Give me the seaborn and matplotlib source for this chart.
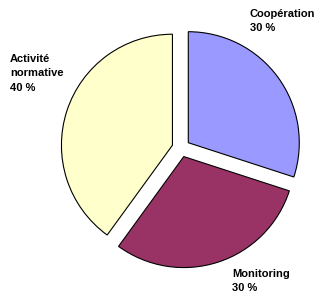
import matplotlib
matplotlib.use("Agg")
import matplotlib.pyplot as plt
import seaborn as sns

# Data
categories = ["Coopération", "Monitoring", "Activité\nnormative"]
shares = [30, 30, 40]
colors = ["#9999FF", "#993366", "#FFFFCC"]

# label layout (top-left corner of each label, in axes data units)
label_pos = [(69, 139), (51, -121), (-171, 94)]

sns.set_theme(style="white")
plt.rcParams["font.family"] = ["Liberation Sans", "DejaVu Sans"]

fig = plt.figure(figsize=(3.2, 2.96), dpi=100)
ax = fig.add_axes([0, 0, 1, 1])

ax.pie(shares, colors=colors, startangle=90, counterclock=False,
       radius=111, explode=[9] * len(shares),
       wedgeprops={"edgecolor": "black", "linewidth": 0.8})

for name, val, (x, y) in zip(categories, shares, label_pos):
    ax.text(x, y, "%s\n%d %%" % (name, val), ha="left", va="top",
            fontsize=8, fontweight="bold", linespacing=1.55, color="black")

ax.set_xlim(-181, 139)
ax.set_ylim(-148, 148)
ax.set_aspect("equal")
ax.axis("off")

fig.savefig("out.png", dpi=100, facecolor="white")
